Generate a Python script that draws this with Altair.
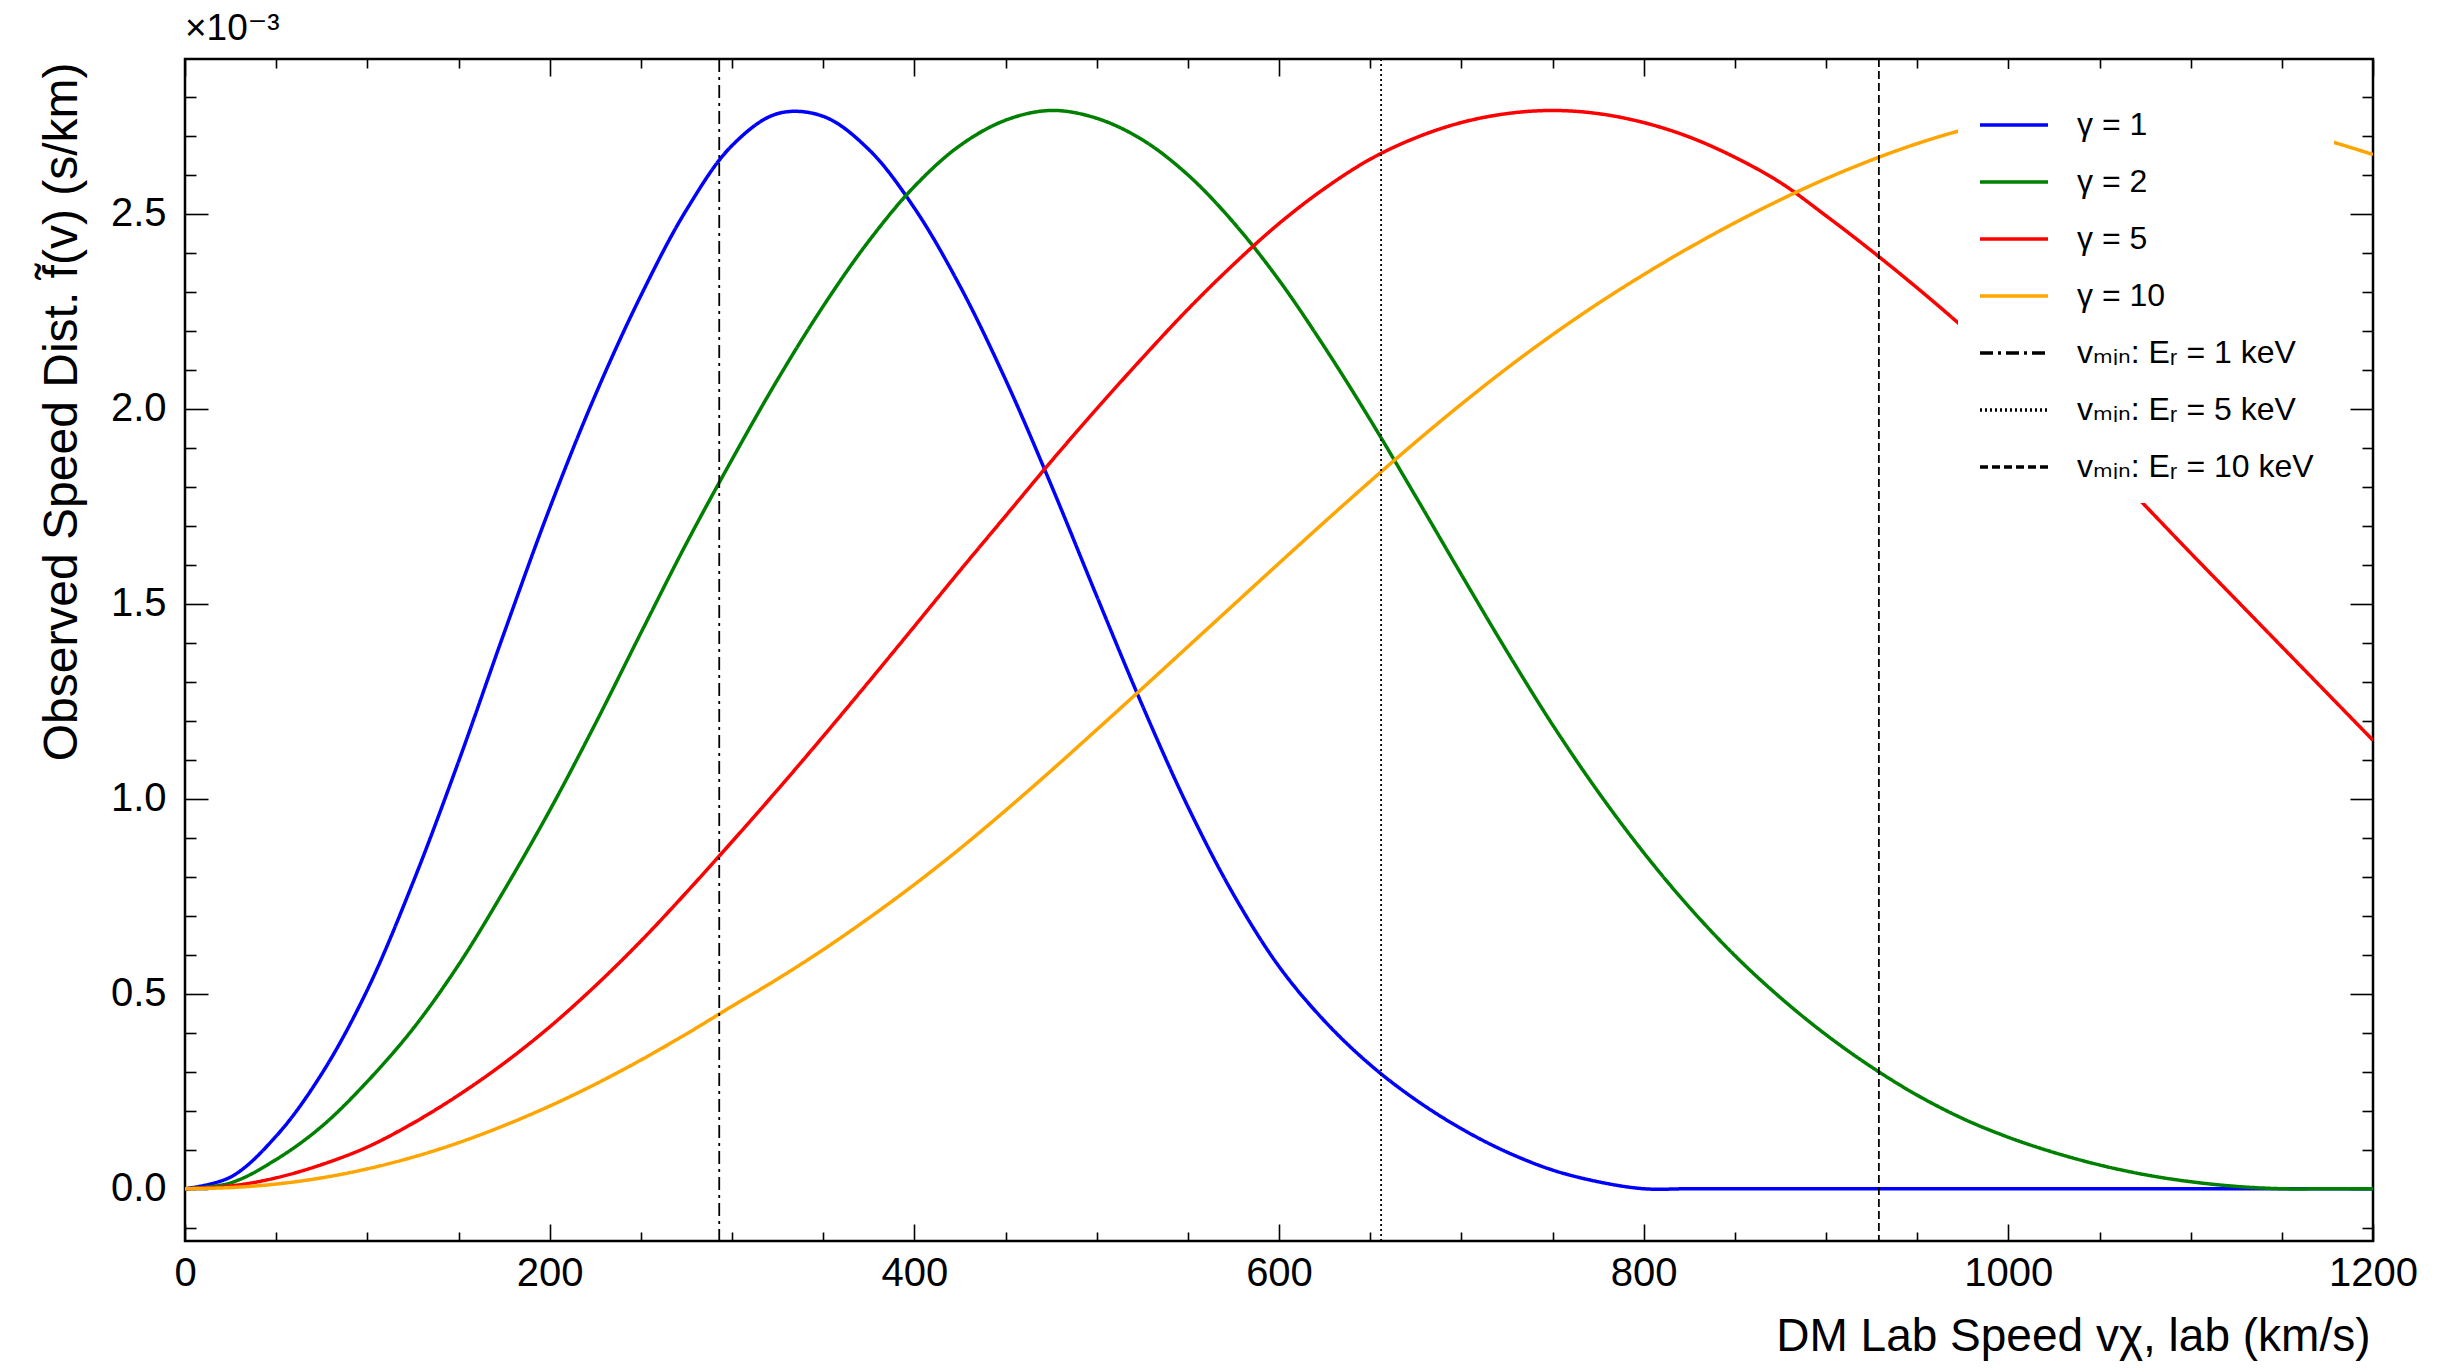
import altair as alt
import pandas as pd

# ---------------- data ----------------
speed = [0, 25, 50, 75, 100, 125, 150, 175, 200, 225, 250, 275, 300, 325, 350, 375,
         400, 425, 450, 475, 500, 525, 550, 575, 600, 625, 650, 675, 700, 725, 750, 775,
         800, 825, 850, 875, 900, 925, 950, 975, 1000, 1025, 1050, 1075, 1100, 1125,
         1150, 1175, 1200]

# values in units of 1e-3 s/km
gamma1 = [0.0, 0.03, 0.135, 0.295, 0.51, 0.785, 1.095, 1.425, 1.745, 2.035, 2.29, 2.51,
          2.675, 2.757, 2.75, 2.665, 2.515, 2.315, 2.075, 1.805, 1.52, 1.24, 0.98, 0.755,
          0.57, 0.43, 0.318, 0.228, 0.154, 0.094, 0.048, 0.018, 0.0,
          0.0, 0.0, 0.0, 0.0, 0.0, 0.0, 0.0, 0.0, 0.0, 0.0, 0.0, 0.0, 0.0, 0.0, 0.0, 0.0]
gamma2 = [0.0, 0.015, 0.075, 0.16, 0.275, 0.41, 0.574, 0.765, 0.97, 1.192, 1.425, 1.655,
          1.87, 2.075, 2.263, 2.43, 2.57, 2.675, 2.74, 2.765, 2.745, 2.69, 2.6, 2.478,
          2.33, 2.158, 1.972, 1.775, 1.575, 1.378, 1.19, 1.018, 0.862, 0.722, 0.598, 0.49,
          0.395, 0.312, 0.24, 0.18, 0.132, 0.093, 0.061, 0.036, 0.018, 0.006, 0.0, 0.0, 0.0]
gamma5 = [0.0, 0.007, 0.028, 0.062, 0.107, 0.168, 0.24, 0.322, 0.415, 0.52, 0.635, 0.76,
          0.89, 1.023, 1.16, 1.30, 1.442, 1.585, 1.725, 1.865, 2.0, 2.13, 2.255, 2.37,
          2.475, 2.565, 2.64, 2.695, 2.734, 2.757, 2.765, 2.757, 2.734, 2.697, 2.645, 2.58,
          2.495, 2.405, 2.31, 2.21, 2.105, 1.993, 1.874, 1.752, 1.63, 1.51, 1.39, 1.27, 1.15]
gamma10 = [0.0, 0.003, 0.012, 0.028, 0.051, 0.081, 0.118, 0.162, 0.212, 0.268, 0.33, 0.397,
           0.468, 0.538, 0.613, 0.694, 0.78, 0.872, 0.97, 1.072, 1.177, 1.283, 1.39, 1.497,
           1.604, 1.71, 1.814, 1.915, 2.012, 2.104, 2.19, 2.27, 2.344, 2.413, 2.477, 2.536,
           2.59, 2.638, 2.68, 2.715, 2.741, 2.757, 2.764, 2.765, 2.758, 2.742, 2.718,
           2.688, 2.652]

curve_labels = ["γ = 1", "γ = 2", "γ = 5", "γ = 10"]
curve_colors = ["#0000ff", "#008000", "#ff0000", "#ffa500"]

vmin_speeds = [293, 656, 929]
vmin_labels = ["vₘᵢₙ: Eᵣ = 1 keV", "vₘᵢₙ: Eᵣ = 5 keV", "vₘᵢₙ: Eᵣ = 10 keV"]
vmin_dashes = [[13, 5, 3, 5], [2, 3], [8, 4]]

x_major = [0, 200, 400, 600, 800, 1000, 1200]
x_minor = [v for v in range(50, 1200, 50) if v % 200 != 0]
y_major = [0.0, 0.5, 1.0, 1.5, 2.0, 2.5]
y_minor = [round(k / 10, 1) for k in range(-1, 29) if k % 5 != 0]

# ---------------- tables ----------------
rows = []
for lab, vals in zip(curve_labels, [gamma1, gamma2, gamma5, gamma10]):
    for s, v in zip(speed, vals):
        rows.append({"speed": s, "value": v, "series": lab})
df = pd.DataFrame(rows)
vdf = pd.DataFrame({"vmin": vmin_speeds, "series": vmin_labels})

all_series = curve_labels + vmin_labels
all_colors = curve_colors + ["black"] * 3
all_dashes = [[1, 0]] * 4 + vmin_dashes

W, H = 2188, 1182
FONT = "Liberation Sans, Arial, DejaVu Sans, sans-serif"

xs = alt.Scale(domain=[0, 1200], nice=False, zero=False)
ys = alt.Scale(domain=[-0.134, 2.897], nice=False, zero=False)


def build(with_encode):
    legend_kw = dict(
        title=None, orient="none", legendX=1773, legendY=10, padding=20,
        fillColor="white", symbolType="stroke", symbolSize=4624, symbolStrokeWidth=3.5,
        labelFontSize=32, labelFont=FONT, labelColor="black", labelOffset=27,
        rowPadding=5, labelLimit=0,
    )
    if with_encode:
        legend_kw["encode"] = {"symbols": {"strokeWidth": {
            "condition": {"test": "indexof(datum.value, 'keV') >= 0", "value": 1.8},
            "value": 3.5}}}
    legend = alt.Legend(**legend_kw)
    color_enc = alt.Color("series:N", scale=alt.Scale(domain=all_series, range=all_colors), legend=legend)
    dash_enc = alt.StrokeDash("series:N", scale=alt.Scale(domain=all_series, range=all_dashes), legend=legend)

    lines = alt.Chart(df).mark_line(strokeWidth=3.5, interpolate="catmull-rom", clip=True).encode(
        x=alt.X("speed:Q", scale=xs, axis=alt.Axis(
            orient="bottom", values=x_major, format="d", ticks=False, domain=False, grid=False,
            labelFontSize=40, labelFont=FONT, labelColor="black", labelPadding=12, labelFlush=False,
            title="DM Lab Speed vχ, lab (km/s)", titleFontSize=46, titleFont=FONT,
            titleFontWeight="normal", titleColor="black", titleAnchor="end",
            titleX=W - 3, titleY=95, titleAlign="right", titleBaseline="middle")),
        y=alt.Y("value:Q", scale=ys, axis=alt.Axis(
            orient="left", values=y_major, format=".1f", ticks=False, domain=False, grid=False,
            labelFontSize=40, labelFont=FONT, labelColor="black", labelPadding=19,
            title="Observed Speed Dist. f\u0303(v) (s/km)", titleFontSize=48, titleFont=FONT,
            titleFontWeight="normal", titleColor="black", titleAngle=-90,
            titleX=-123, titleY=3, titleAlign="right", titleBaseline="middle")),
        color=color_enc,
        strokeDash=dash_enc,
    )

    rules = alt.Chart(vdf).mark_rule(strokeWidth=1.8).encode(
        x=alt.X("vmin:Q", scale=xs, axis=None),
        color=color_enc,
        strokeDash=dash_enc,
    )

    def tick_layer(x_orient, y_orient, xv, yv, xsize, ysize):
        return alt.Chart(df).mark_point(opacity=0).encode(
            x=alt.X("speed:Q", scale=xs, axis=alt.Axis(
                orient=x_orient, offset=-H, values=xv, tickSize=xsize, tickWidth=1.6,
                tickColor="black", labels=False, domain=False, grid=False, title=None)),
            y=alt.Y("value:Q", scale=ys, axis=alt.Axis(
                orient=y_orient, offset=-W, values=yv, tickSize=ysize, tickWidth=1.6,
                tickColor="black", labels=False, domain=False, grid=False, title=None)),
        )

    ticks = [
        tick_layer("top", "right", x_major, y_major, 17, 23),
        tick_layer("top", "right", x_minor, y_minor, 9, 11),
        tick_layer("bottom", "left", x_major, y_major, 17, 23),
        tick_layer("bottom", "left", x_minor, y_minor, 9, 11),
    ]

    return alt.layer(lines, rules, *ticks).resolve_axis(
        x="independent", y="independent"
    ).properties(
        width=W, height=H,
        autosize=alt.AutoSizeParams(type="none"),
        padding={"left": 185, "top": 59, "right": 65, "bottom": 129},
        background="white",
        title=alt.TitleParams(text="×10⁻³", anchor="start", frame="group", fontSize=37,
                              font=FONT, fontWeight="normal", color="black", offset=10),
    ).configure_view(stroke="black", strokeWidth=2.5)


try:
    chart = build(True)
    chart.to_dict()
except Exception:
    chart = build(False)

chart.save("out.html", embed_options={"renderer": "svg", "actions": False})
